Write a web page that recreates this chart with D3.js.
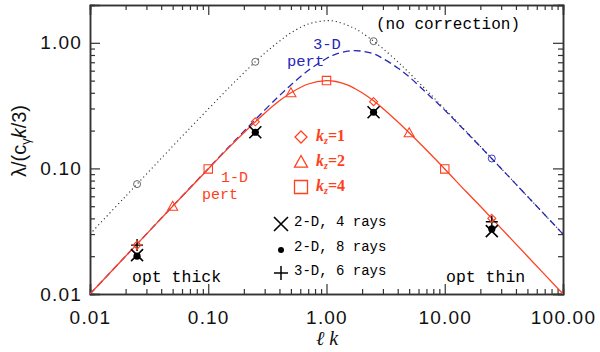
<!DOCTYPE html>
<html>
<head>
<meta charset="utf-8">
<script src="https://cdn.jsdelivr.net/npm/d3@7"></script>
<style>
  body { margin: 0; background: #fff; }
  svg { display: block; }
</style>
</head>
<body>
<svg id="canvas"></svg>
<script>
const width = 600;
const height = 352;
const margin = { top: 5, right: 37, bottom: 58, left: 90 };
const red = '#ff4020';
const blue = '#2626b8';
const monoFont = '"Liberation Mono", monospace';

// curves (l k vs lambda)
const curveX = [0.01, 0.02, 0.05, 0.1, 0.15, 0.2, 0.3, 0.4, 0.5, 0.7, 1, 1.2, 1.5, 1.73, 2, 2.5, 3, 4, 5, 7, 10, 15, 20, 30, 50, 100];
const pert1D = [0.0100, 0.0200, 0.0499, 0.099, 0.147, 0.192, 0.275, 0.345, 0.400, 0.470, 0.500, 0.492, 0.462, 0.433, 0.400, 0.345, 0.300, 0.235, 0.192, 0.140, 0.099, 0.066, 0.0499, 0.0333, 0.0200, 0.0100];
const pert3D = [0.0100, 0.0200, 0.0500, 0.0997, 0.149, 0.197, 0.291, 0.380, 0.462, 0.602, 0.750, 0.814, 0.857, 0.866, 0.857, 0.818, 0.750, 0.631, 0.536, 0.400, 0.291, 0.197, 0.149, 0.0998, 0.0599, 0.0300];
const noCorr = [0.0300, 0.0600, 0.150, 0.297, 0.440, 0.577, 0.826, 1.03, 1.20, 1.41, 1.50, 1.48, 1.38, 1.30, 1.20, 1.03, 0.90, 0.706, 0.577, 0.420, 0.297, 0.199, 0.150, 0.0999, 0.0600, 0.0300];

// markers
const circX = [0.025, 0.25, 2.5, 25];
const circY = [0.075, 0.706, 1.03, 0.12];
const kz1X = [0.025, 0.25, 2.5, 25];
const kz1Y = [0.0245, 0.235, 0.34, 0.040];
const kz2X = [0.05, 0.5, 5];
const kz2Y = [0.0499, 0.40, 0.192];
const kz4X = [0.1, 1, 10];
const kz4Y = [0.099, 0.50, 0.099];
const rays4X = [0.025, 0.25, 2.5, 25];
const rays4Y = [0.0204, 0.194, 0.28, 0.0317];
const rays8X = [0.025, 0.25, 2.5, 25];
const rays8Y = [0.0200, 0.194, 0.28, 0.0330];
const rays6X = [0.025, 25];
const rays6Y = [0.0245, 0.0376];

const xMajor = [0.01, 0.1, 1, 10, 100];
const xLabels = ['0.01', '0.10', '1.00', '10.00', '100.00'];
const yMajor = [0.01, 0.1, 1];
const yLabels = ['0.01', '0.10', '1.00'];

const svg = d3.select('#canvas').attr('width', width).attr('height', height);
const x = d3.scaleLog().domain([0.01, 100]).range([margin.left, width - margin.right]);
const y = d3.scaleLog().domain([0.01, 2]).range([height - margin.bottom, margin.top]);

svg.append('defs').append('clipPath').attr('id', 'clip')
  .append('rect')
  .attr('x', margin.left).attr('y', margin.top)
  .attr('width', x.range()[1] - x.range()[0])
  .attr('height', y.range()[0] - y.range()[1]);

// axes, ticks pointing inward on all four sides
const xMinor = x.ticks().filter((t) => !xMajor.some((m) => Math.abs(m - t) / t < 1e-6));
const yMinor = y.ticks().filter((t) => !yMajor.some((m) => Math.abs(m - t) / t < 1e-6));

function styleAxis(g) {
  g.select('.domain').attr('stroke', '#333').attr('stroke-width', 1.5);
  g.selectAll('.tick line').attr('stroke', '#333').attr('stroke-width', 1.2);
}

const plotBottom = y.range()[0];
const plotTop = y.range()[1];
const plotLeft = x.range()[0];
const plotRight = x.range()[1];

svg.append('g').attr('transform', `translate(0,${plotBottom})`)
  .call(d3.axisBottom(x).tickValues(xMinor).tickSize(-5).tickFormat(''))
  .call(styleAxis);
svg.append('g').attr('transform', `translate(0,${plotBottom})`)
  .call(d3.axisBottom(x).tickValues(xMajor).tickSize(-10).tickPadding(17)
    .tickFormat((d, i) => xLabels[i]))
  .call(styleAxis)
  .selectAll('text')
  .attr('font-family', '"Liberation Sans", Arial, sans-serif')
  .attr('font-size', 19).attr('letter-spacing', 1.2).attr('fill', '#111');
svg.append('g').attr('transform', `translate(0,${plotTop})`)
  .call(d3.axisTop(x).tickValues(xMinor).tickSize(-5).tickFormat(''))
  .call(styleAxis);
svg.append('g').attr('transform', `translate(0,${plotTop})`)
  .call(d3.axisTop(x).tickValues(xMajor).tickSize(-10).tickFormat(''))
  .call(styleAxis);

svg.append('g').attr('transform', `translate(${plotLeft},0)`)
  .call(d3.axisLeft(y).tickValues(yMinor).tickSize(-5).tickFormat(''))
  .call(styleAxis);
svg.append('g').attr('transform', `translate(${plotLeft},0)`)
  .call(d3.axisLeft(y).tickValues(yMajor).tickSize(-10).tickPadding(8)
    .tickFormat((d, i) => yLabels[i]))
  .call(styleAxis)
  .selectAll('text')
  .attr('font-family', '"Liberation Sans", Arial, sans-serif')
  .attr('font-size', 19).attr('letter-spacing', 1.2).attr('fill', '#111');
svg.append('g').attr('transform', `translate(${plotRight},0)`)
  .call(d3.axisRight(y).tickValues(yMinor).tickSize(-5).tickFormat(''))
  .call(styleAxis);
svg.append('g').attr('transform', `translate(${plotRight},0)`)
  .call(d3.axisRight(y).tickValues(yMajor).tickSize(-10).tickFormat(''))
  .call(styleAxis);

// curves
const line = d3.line()
  .x((d) => x(d[0]))
  .y((d) => y(d[1]))
  .curve(d3.curveCatmullRom);
const plot = svg.append('g').attr('clip-path', 'url(#clip)');

plot.append('path')
  .datum(curveX.map((v, i) => [v, noCorr[i]]))
  .attr('d', line).attr('fill', 'none')
  .attr('stroke', '#222').attr('stroke-width', 1.1).attr('stroke-dasharray', '1.1,3');
plot.append('path')
  .datum(curveX.map((v, i) => [v, pert3D[i]]))
  .attr('d', line).attr('fill', 'none')
  .attr('stroke', blue).attr('stroke-width', 1.3).attr('stroke-dasharray', '7,4');
plot.append('path')
  .datum(curveX.map((v, i) => [v, pert1D[i]]))
  .attr('d', line).attr('fill', 'none')
  .attr('stroke', red).attr('stroke-width', 1.3);

// marker shapes
const diamondPath = (s) => `M0,${-s}L${s},0L0,${s}L${-s},0Z`;
const trianglePath = (s) => `M0,${-s}L${s},${s * 0.8}L${-s},${s * 0.8}Z`;
const squarePath = (s) => `M${-s},${-s}H${s}V${s}H${-s}Z`;
const xPath = (s) => `M${-s},${-s}L${s},${s}M${-s},${s}L${s},${-s}`;
const plusPath = (s) => `M${-s},0H${s}M0,${-s}V${s}`;

function markers(xs, ys, pathFn, size, stroke, fill, sw) {
  svg.append('g').selectAll('path')
    .data(xs.map((v, i) => [v, ys[i]]))
    .join('path')
    .attr('transform', (d) => `translate(${x(d[0])},${y(d[1])})`)
    .attr('d', pathFn(size))
    .attr('fill', fill).attr('stroke', stroke).attr('stroke-width', sw);
}

svg.append('g').selectAll('circle')
  .data(circX.map((v, i) => [v, circY[i]]))
  .join('circle')
  .attr('cx', (d) => x(d[0])).attr('cy', (d) => y(d[1])).attr('r', 3.5)
  .attr('fill', 'none')
  .attr('stroke', (d, i) => (i === 3 ? blue : '#555')).attr('stroke-width', 0.9);

markers(rays4X, rays4Y, xPath, 6, '#000', 'none', 1.6);
svg.append('g').selectAll('circle')
  .data(rays8X.map((v, i) => [v, rays8Y[i]]))
  .join('circle')
  .attr('cx', (d) => x(d[0])).attr('cy', (d) => y(d[1])).attr('r', 3.6)
  .attr('fill', '#000');
markers(rays6X, rays6Y, plusPath, 6, '#000', 'none', 1.4);
markers(kz1X, kz1Y, diamondPath, 4, red, 'none', 1.1);
markers(kz2X, kz2Y, trianglePath, 5, red, 'none', 1.1);
markers(kz4X, kz4Y, squarePath, 4.2, red, 'none', 1.1);

// legends
const kzLegend = svg.append('g');
[[diamondPath(6), 137, '1'], [trianglePath(6.5), 162, '2'], [squarePath(6.5), 187, '4']]
  .forEach(([p, cy, v]) => {
    kzLegend.append('path').attr('transform', `translate(301,${cy})`).attr('d', p)
      .attr('fill', 'none').attr('stroke', red).attr('stroke-width', 1.3);
    const t = kzLegend.append('text').attr('x', 316).attr('y', cy + 4)
      .attr('font-family', '"Liberation Serif", serif').attr('font-size', 16)
      .attr('font-weight', 'bold').attr('font-style', 'italic').attr('fill', red);
    t.append('tspan').text('k');
    t.append('tspan').attr('font-size', 10).attr('dy', 3).text('z');
    t.append('tspan').attr('dy', -3).attr('font-style', 'normal').text(`=${v}`);
  });

const raysLegend = svg.append('g');
raysLegend.append('path').attr('transform', 'translate(281,224)').attr('d', xPath(7))
  .attr('stroke', '#000').attr('stroke-width', 1.6);
raysLegend.append('circle').attr('cx', 281).attr('cy', 250).attr('r', 3).attr('fill', '#000');
raysLegend.append('path').attr('transform', 'translate(281,273)').attr('d', plusPath(7))
  .attr('stroke', '#000').attr('stroke-width', 1.5);
[['2-D, 4 rays', 226], ['2-D, 8 rays', 251], ['3-D, 6 rays', 275]].forEach(([s, by]) => {
  raysLegend.append('text').attr('x', 294).attr('y', by)
    .attr('font-family', monoFont).attr('font-size', 14).attr('fill', '#000').text(s);
});

// annotations
function note(txt, tx, ty, color, size) {
  svg.append('text').attr('x', tx).attr('y', ty)
    .attr('font-family', monoFont).attr('font-size', size).attr('fill', color).text(txt);
}
note('(no correction)', 376, 29, '#000', 16);
note('3-D', 313, 49, blue, 15.5);
note('pert', 287, 66, blue, 15.5);
note('1-D', 221, 182, red, 15);
note('pert', 202, 199, red, 15);
note('opt thick', 132, 282, '#000', 16.5);
note('opt thin', 446, 282, '#000', 16.5);

// axis titles
svg.append('text')
  .attr('x', 327).attr('y', 345).attr('text-anchor', 'middle')
  .attr('font-family', '"Liberation Serif", serif').attr('font-style', 'italic')
  .attr('font-size', 20).attr('fill', '#111')
  .text('ℓ k');

const yTitle = svg.append('text')
  .attr('transform', 'translate(26,141) rotate(-90)')
  .attr('text-anchor', 'middle')
  .attr('font-family', '"Liberation Sans", Arial, sans-serif')
  .attr('font-size', 20).attr('fill', '#111');
yTitle.append('tspan').text('λ/(c');
yTitle.append('tspan').attr('font-size', 13).attr('dy', 4).text('γ');
yTitle.append('tspan').attr('dy', -4).attr('font-style', 'italic').text('k');
yTitle.append('tspan').text('/3)');
</script>
</body>
</html>
